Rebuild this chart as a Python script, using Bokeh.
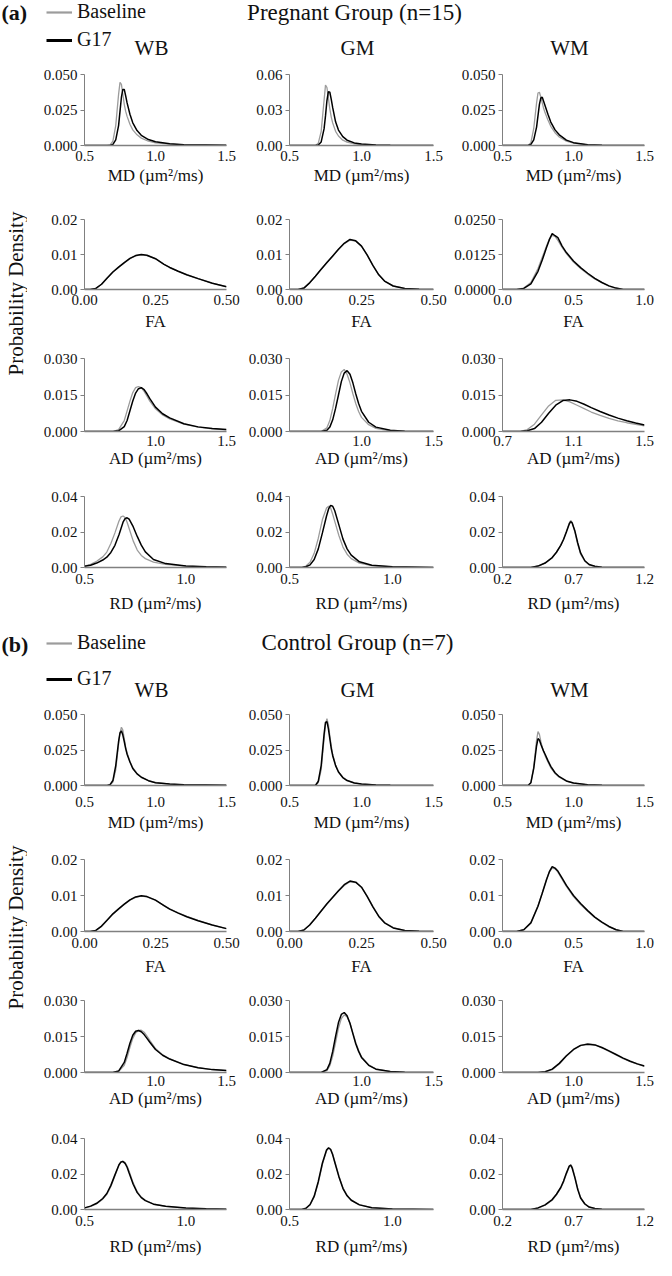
import math
from bokeh.plotting import figure
from bokeh.layouts import column, row
from bokeh.models import Range1d, FixedTicker, NumeralTickFormatter, Label, Legend, LegendItem
from bokeh.embed import file_html
from bokeh.resources import INLINE

# ---------------- data ----------------
series = ["Baseline", "G17"]
groups = ["Pregnant Group (n=15)", "Control Group (n=7)"]
panel_tags = ["(a)", "(b)"]
regions = ["WB", "GM", "WM"]
metrics = ["MD", "FA", "AD", "RD"]
xlabels = {"MD": "MD (µm²/ms)", "FA": "FA", "AD": "AD (µm²/ms)", "RD": "RD (µm²/ms)"}
ylabel = "Probability Density"

# MD
md_x21 = [0.5, 0.66, 0.68, 0.70, 0.72, 0.74, 0.75, 0.76, 0.77, 0.78, 0.79, 0.80, 0.82, 0.84, 0.87, 0.90, 0.95, 1.00, 1.10, 1.20, 1.50]
md_x20 = [0.5, 0.68, 0.70, 0.72, 0.74, 0.75, 0.76, 0.77, 0.78, 0.79, 0.80, 0.82, 0.84, 0.87, 0.90, 0.95, 1.00, 1.10, 1.20, 1.50]
a_wb_md_base = [0, 0, 0.0005, 0.003, 0.014, 0.036, 0.0445, 0.043, 0.036, 0.029, 0.024, 0.0205, 0.015, 0.011, 0.0075, 0.0052, 0.003, 0.0019, 0.0009, 0.0005, 0.0001]
a_wb_md_g17 = [0, 0, 0, 0.0008, 0.004, 0.014, 0.024, 0.034, 0.0395, 0.0395, 0.035, 0.030, 0.022, 0.016, 0.0105, 0.0072, 0.0042, 0.0026, 0.0012, 0.0006, 0.0001]
a_gm_md_base = [0, 0, 0.002, 0.012, 0.038, 0.051, 0.049, 0.040, 0.031, 0.024, 0.019, 0.012, 0.008, 0.0045, 0.0028, 0.0014, 0.0008, 0.0003, 0.0001, 0]
a_gm_md_g17 = [0, 0, 0.0005, 0.003, 0.014, 0.025, 0.038, 0.0455, 0.045, 0.039, 0.032, 0.020, 0.013, 0.0075, 0.0045, 0.0022, 0.0012, 0.0005, 0.0002, 0]
a_wm_md_base = [0, 0, 0.002, 0.012, 0.030, 0.037, 0.0375, 0.034, 0.030, 0.026, 0.023, 0.018, 0.0135, 0.009, 0.006, 0.003, 0.0016, 0.0005, 0.0002, 0]
a_wm_md_g17 = [0, 0, 0.0008, 0.004, 0.013, 0.021, 0.029, 0.0335, 0.034, 0.031, 0.028, 0.022, 0.0165, 0.011, 0.0075, 0.0038, 0.002, 0.0006, 0.0002, 0]
b_wb_md_base = [0, 0, 0.0004, 0.0025, 0.011, 0.029, 0.037, 0.041, 0.039, 0.033, 0.027, 0.023, 0.017, 0.0125, 0.0085, 0.006, 0.0035, 0.0021, 0.001, 0.0005, 0.0001]
b_wb_md_g17 = [0, 0, 0.0006, 0.0035, 0.014, 0.031, 0.037, 0.0385, 0.0355, 0.031, 0.026, 0.022, 0.0165, 0.012, 0.0082, 0.0058, 0.0034, 0.002, 0.001, 0.0005, 0.0001]
b_gm_md_base = [0, 0, 0.002, 0.011, 0.033, 0.043, 0.047, 0.043, 0.035, 0.028, 0.022, 0.0145, 0.0098, 0.0058, 0.0036, 0.0018, 0.001, 0.0004, 0.0002, 0]
b_gm_md_g17 = [0, 0, 0.003, 0.014, 0.036, 0.0445, 0.045, 0.040, 0.033, 0.026, 0.021, 0.014, 0.0095, 0.0056, 0.0035, 0.0018, 0.001, 0.0004, 0.0002, 0]
b_wm_md_base = [0, 0, 0.002, 0.013, 0.032, 0.038, 0.036, 0.031, 0.027, 0.024, 0.021, 0.0165, 0.0125, 0.0085, 0.0058, 0.003, 0.0016, 0.0005, 0.0002, 0]
b_wm_md_g17 = [0, 0, 0.002, 0.012, 0.028, 0.033, 0.032, 0.029, 0.0265, 0.024, 0.022, 0.0175, 0.0135, 0.009, 0.0062, 0.0032, 0.0017, 0.0005, 0.0002, 0]

# FA
fa_wb_x = [0, 0.02, 0.04, 0.06, 0.08, 0.10, 0.12, 0.14, 0.16, 0.18, 0.20, 0.22, 0.25, 0.28, 0.30, 0.33, 0.36, 0.40, 0.45, 0.50]
fa_gm_x = [0, 0.03, 0.05, 0.07, 0.09, 0.11, 0.13, 0.15, 0.17, 0.19, 0.21, 0.23, 0.25, 0.27, 0.29, 0.31, 0.33, 0.36, 0.40, 0.45, 0.50]
fa_wm_x = [0, 0.10, 0.15, 0.20, 0.25, 0.28, 0.31, 0.33, 0.35, 0.37, 0.39, 0.42, 0.45, 0.50, 0.55, 0.60, 0.65, 0.70, 0.75, 0.80, 0.85, 1.0]
a_wb_fa_base = [0, 0, 0.0003, 0.0015, 0.0033, 0.005, 0.0063, 0.0076, 0.0088, 0.0096, 0.0099, 0.0097, 0.0088, 0.0072, 0.0063, 0.0052, 0.0042, 0.0031, 0.0018, 0.0008]
a_wb_fa_g17 = [0, 0, 0.0003, 0.0015, 0.0033, 0.005, 0.0064, 0.0077, 0.0089, 0.0097, 0.0100, 0.0098, 0.0088, 0.0072, 0.0063, 0.0052, 0.0042, 0.0031, 0.0018, 0.0008]
a_gm_fa_base = [0, 0, 0.0004, 0.0019, 0.0038, 0.0058, 0.0077, 0.0095, 0.0114, 0.0131, 0.0141, 0.0138, 0.0124, 0.0098, 0.0068, 0.0042, 0.0024, 0.0010, 0.0003, 0.0001, 0]
a_gm_fa_g17 = [0, 0, 0.0004, 0.0019, 0.0038, 0.0058, 0.0077, 0.0096, 0.0115, 0.0132, 0.0143, 0.0139, 0.0124, 0.0098, 0.0068, 0.0042, 0.0024, 0.0010, 0.0003, 0.0001, 0]
a_wm_fa_base = [0, 0, 0.0005, 0.0025, 0.0075, 0.0115, 0.0155, 0.0180, 0.0193, 0.0190, 0.0175, 0.0150, 0.0128, 0.0098, 0.0075, 0.0055, 0.0038, 0.0024, 0.0012, 0.0004, 0, 0]
a_wm_fa_g17 = [0, 0, 0.0004, 0.002, 0.0065, 0.0105, 0.0150, 0.0178, 0.0200, 0.0192, 0.0185, 0.0155, 0.0132, 0.0102, 0.0078, 0.0058, 0.0040, 0.0025, 0.0013, 0.0005, 0, 0]
b_wb_fa_base = [0, 0, 0.0003, 0.0014, 0.0031, 0.0048, 0.0062, 0.0075, 0.0087, 0.0095, 0.0098, 0.0096, 0.0087, 0.0072, 0.0063, 0.0052, 0.0042, 0.0031, 0.0018, 0.0008]
b_wb_fa_g17 = [0, 0, 0.0003, 0.0015, 0.0032, 0.0049, 0.0063, 0.0076, 0.0088, 0.0096, 0.0099, 0.0097, 0.0087, 0.0072, 0.0062, 0.0051, 0.0041, 0.0030, 0.0018, 0.0008]
b_gm_fa_base = [0, 0, 0.0004, 0.0018, 0.0037, 0.0057, 0.0076, 0.0094, 0.0112, 0.0128, 0.0138, 0.0136, 0.0123, 0.0098, 0.0069, 0.0043, 0.0025, 0.0011, 0.0003, 0.0001, 0]
b_gm_fa_g17 = [0, 0, 0.0004, 0.0018, 0.0037, 0.0057, 0.0077, 0.0095, 0.0113, 0.0130, 0.0140, 0.0137, 0.0123, 0.0097, 0.0068, 0.0042, 0.0024, 0.0010, 0.0003, 0.0001, 0]
b_wm_fa_base = [0, 0, 0.0005, 0.0025, 0.0072, 0.0108, 0.0145, 0.0165, 0.0176, 0.0174, 0.0165, 0.0145, 0.0125, 0.0097, 0.0075, 0.0056, 0.0039, 0.0025, 0.0013, 0.0005, 0, 0]
b_wm_fa_g17 = [0, 0, 0.0005, 0.0024, 0.0070, 0.0106, 0.0144, 0.0166, 0.0180, 0.0176, 0.0168, 0.0148, 0.0128, 0.0100, 0.0078, 0.0058, 0.0040, 0.0026, 0.0014, 0.0005, 0, 0]

# AD
ad_wb_x = [0.5, 0.70, 0.74, 0.78, 0.80, 0.82, 0.84, 0.86, 0.88, 0.90, 0.92, 0.94, 0.96, 1.0, 1.05, 1.1, 1.2, 1.3, 1.4, 1.5]
ad_gm_x = [0.5, 0.72, 0.76, 0.78, 0.80, 0.82, 0.84, 0.86, 0.88, 0.90, 0.92, 0.94, 0.96, 0.98, 1.0, 1.05, 1.1, 1.2, 1.3, 1.5]
ad_wm_x_a = [0.7, 0.80, 0.84, 0.88, 0.92, 0.96, 1.00, 1.04, 1.08, 1.12, 1.16, 1.20, 1.25, 1.30, 1.35, 1.40, 1.45, 1.50]
ad_wm_x_b = [0.5, 0.75, 0.80, 0.85, 0.90, 0.95, 1.00, 1.05, 1.10, 1.15, 1.20, 1.25, 1.30, 1.35, 1.40, 1.45, 1.50]
a_wb_ad_base = [0, 0, 0.0008, 0.0045, 0.0085, 0.0125, 0.016, 0.018, 0.0185, 0.018, 0.0165, 0.0145, 0.0125, 0.0093, 0.0068, 0.0052, 0.0030, 0.0018, 0.0011, 0.0007]
a_wb_ad_g17 = [0, 0, 0.0003, 0.002, 0.0045, 0.0085, 0.0125, 0.0158, 0.0176, 0.018, 0.0172, 0.0155, 0.0135, 0.0100, 0.0073, 0.0056, 0.0032, 0.0019, 0.0012, 0.0008]
a_gm_ad_base = [0, 0, 0.0015, 0.0045, 0.0095, 0.0155, 0.021, 0.0245, 0.0255, 0.0235, 0.020, 0.0155, 0.0115, 0.0082, 0.0058, 0.0028, 0.0013, 0.0003, 0.0001, 0]
a_gm_ad_g17 = [0, 0, 0.0005, 0.0018, 0.0048, 0.0095, 0.0150, 0.0205, 0.0240, 0.0250, 0.0235, 0.0200, 0.0155, 0.0115, 0.0083, 0.0038, 0.0018, 0.0005, 0.0001, 0]
a_wm_ad_base = [0, 0, 0.0008, 0.0030, 0.0068, 0.0105, 0.0128, 0.0130, 0.0122, 0.0108, 0.0094, 0.0080, 0.0066, 0.0054, 0.0044, 0.0036, 0.0029, 0.0023]
a_wm_ad_g17 = [0, 0, 0.0003, 0.0012, 0.0038, 0.0075, 0.0108, 0.0127, 0.0130, 0.0124, 0.0112, 0.0098, 0.0082, 0.0068, 0.0055, 0.0044, 0.0035, 0.0027]
b_wb_ad_base = [0, 0, 0.0004, 0.003, 0.0062, 0.0105, 0.0142, 0.0165, 0.0175, 0.0176, 0.0168, 0.0152, 0.0134, 0.0100, 0.0074, 0.0057, 0.0034, 0.0020, 0.0012, 0.0008]
b_wb_ad_g17 = [0, 0, 0.0006, 0.0042, 0.0080, 0.0122, 0.0155, 0.0172, 0.0175, 0.0170, 0.0158, 0.0142, 0.0126, 0.0096, 0.0072, 0.0056, 0.0033, 0.0020, 0.0012, 0.0008]
b_gm_ad_base = [0, 0, 0.0008, 0.0028, 0.0068, 0.0125, 0.0185, 0.0225, 0.0240, 0.0232, 0.0205, 0.0165, 0.0125, 0.0092, 0.0066, 0.0032, 0.0015, 0.0004, 0.0001, 0]
b_gm_ad_g17 = [0, 0, 0.0012, 0.0038, 0.0088, 0.0150, 0.0208, 0.0242, 0.0250, 0.0236, 0.0205, 0.0162, 0.0120, 0.0088, 0.0063, 0.0030, 0.0014, 0.0004, 0.0001, 0]
b_wm_ad_base = [0, 0, 0.0003, 0.0012, 0.0035, 0.0068, 0.0095, 0.0112, 0.0120, 0.0116, 0.0103, 0.0088, 0.0073, 0.0058, 0.0045, 0.0035, 0.0026]
b_wm_ad_g17 = [0, 0, 0.0003, 0.0014, 0.0038, 0.0070, 0.0096, 0.0113, 0.0118, 0.0115, 0.0104, 0.0090, 0.0075, 0.0060, 0.0047, 0.0036, 0.0027]

# RD
rd_wb_x = [0.50, 0.53, 0.56, 0.59, 0.61, 0.63, 0.65, 0.67, 0.68, 0.69, 0.70, 0.71, 0.72, 0.74, 0.76, 0.78, 0.80, 0.84, 0.90, 1.0, 1.1, 1.2]
rd_gm_x = [0.5, 0.56, 0.58, 0.60, 0.62, 0.64, 0.66, 0.68, 0.69, 0.70, 0.71, 0.72, 0.74, 0.76, 0.78, 0.80, 0.84, 0.90, 1.0, 1.2]
rd_wm_x = [0.2, 0.40, 0.45, 0.50, 0.55, 0.58, 0.61, 0.63, 0.65, 0.67, 0.68, 0.69, 0.71, 0.73, 0.75, 0.78, 0.81, 0.85, 0.90, 1.0, 1.2]
a_wb_rd_base = [0.0008, 0.0018, 0.0035, 0.006, 0.0087, 0.0135, 0.0195, 0.0262, 0.0285, 0.0290, 0.0282, 0.0255, 0.0220, 0.0150, 0.0098, 0.0068, 0.0050, 0.003, 0.0018, 0.0008, 0.0004, 0.0002]
a_wb_rd_g17 = [0.0007, 0.0013, 0.0025, 0.0042, 0.0058, 0.0085, 0.0125, 0.0185, 0.0220, 0.0255, 0.0275, 0.0280, 0.0272, 0.0230, 0.0175, 0.0126, 0.0088, 0.0045, 0.0022, 0.0009, 0.0004, 0.0002]
a_gm_rd_base = [0, 0, 0.0008, 0.0030, 0.0080, 0.0165, 0.0270, 0.0335, 0.0345, 0.0335, 0.030, 0.0260, 0.0180, 0.0115, 0.0075, 0.0050, 0.0025, 0.0010, 0.0003, 0]
a_gm_rd_g17 = [0, 0, 0.0004, 0.0015, 0.0045, 0.0105, 0.0195, 0.0290, 0.0330, 0.0350, 0.0345, 0.0320, 0.0240, 0.0160, 0.0105, 0.0070, 0.0032, 0.0013, 0.0004, 0]
a_wm_rd_base = [0, 0, 0.0008, 0.0025, 0.0055, 0.0085, 0.0125, 0.0160, 0.0205, 0.0250, 0.0265, 0.0255, 0.0200, 0.0130, 0.0075, 0.0035, 0.0015, 0.0006, 0.0002, 0, 0]
a_wm_rd_g17 = [0, 0, 0.0008, 0.0025, 0.0056, 0.0086, 0.0125, 0.0158, 0.0200, 0.0245, 0.0258, 0.0252, 0.0205, 0.0138, 0.0082, 0.0038, 0.0017, 0.0007, 0.0002, 0, 0]
b_wb_rd_base = [0.0008, 0.0017, 0.0032, 0.0058, 0.0085, 0.013, 0.019, 0.025, 0.0268, 0.0272, 0.0265, 0.0245, 0.0215, 0.015, 0.0100, 0.0070, 0.0052, 0.0031, 0.0018, 0.0008, 0.0004, 0.0002]
b_wb_rd_g17 = [0.0009, 0.0019, 0.0035, 0.0062, 0.0090, 0.0136, 0.0195, 0.0252, 0.0268, 0.0270, 0.0260, 0.0238, 0.0205, 0.0142, 0.0095, 0.0067, 0.0050, 0.0030, 0.0018, 0.0008, 0.0004, 0.0002]
b_gm_rd_base = [0, 0, 0.0006, 0.0025, 0.0070, 0.0150, 0.0255, 0.0330, 0.0345, 0.0340, 0.0312, 0.0272, 0.0190, 0.0122, 0.0080, 0.0054, 0.0027, 0.0011, 0.0003, 0]
b_gm_rd_g17 = [0, 0, 0.0007, 0.0028, 0.0075, 0.0158, 0.0262, 0.0335, 0.0348, 0.0338, 0.0308, 0.0266, 0.0185, 0.0118, 0.0077, 0.0052, 0.0026, 0.0010, 0.0003, 0]
b_wm_rd_base = [0, 0, 0.0008, 0.0024, 0.0052, 0.0082, 0.0120, 0.0155, 0.0200, 0.0240, 0.0252, 0.0242, 0.0185, 0.0118, 0.0068, 0.0032, 0.0014, 0.0006, 0.0002, 0, 0]
b_wm_rd_g17 = [0, 0, 0.0009, 0.0026, 0.0056, 0.0086, 0.0124, 0.0160, 0.0205, 0.0245, 0.0250, 0.0235, 0.0178, 0.0112, 0.0065, 0.0031, 0.0014, 0.0006, 0.0002, 0, 0]

curves = {
    ("a", "WB", "MD"): (md_x21, a_wb_md_base, a_wb_md_g17),
    ("a", "GM", "MD"): (md_x20, a_gm_md_base, a_gm_md_g17),
    ("a", "WM", "MD"): (md_x20, a_wm_md_base, a_wm_md_g17),
    ("b", "WB", "MD"): (md_x21, b_wb_md_base, b_wb_md_g17),
    ("b", "GM", "MD"): (md_x20, b_gm_md_base, b_gm_md_g17),
    ("b", "WM", "MD"): (md_x20, b_wm_md_base, b_wm_md_g17),
    ("a", "WB", "FA"): (fa_wb_x, a_wb_fa_base, a_wb_fa_g17),
    ("a", "GM", "FA"): (fa_gm_x, a_gm_fa_base, a_gm_fa_g17),
    ("a", "WM", "FA"): (fa_wm_x, a_wm_fa_base, a_wm_fa_g17),
    ("b", "WB", "FA"): (fa_wb_x, b_wb_fa_base, b_wb_fa_g17),
    ("b", "GM", "FA"): (fa_gm_x, b_gm_fa_base, b_gm_fa_g17),
    ("b", "WM", "FA"): (fa_wm_x, b_wm_fa_base, b_wm_fa_g17),
    ("a", "WB", "AD"): (ad_wb_x, a_wb_ad_base, a_wb_ad_g17),
    ("a", "GM", "AD"): (ad_gm_x, a_gm_ad_base, a_gm_ad_g17),
    ("a", "WM", "AD"): (ad_wm_x_a, a_wm_ad_base, a_wm_ad_g17),
    ("b", "WB", "AD"): (ad_wb_x, b_wb_ad_base, b_wb_ad_g17),
    ("b", "GM", "AD"): (ad_gm_x, b_gm_ad_base, b_gm_ad_g17),
    ("b", "WM", "AD"): (ad_wm_x_b, b_wm_ad_base, b_wm_ad_g17),
    ("a", "WB", "RD"): (rd_wb_x, a_wb_rd_base, a_wb_rd_g17),
    ("a", "GM", "RD"): (rd_gm_x, a_gm_rd_base, a_gm_rd_g17),
    ("a", "WM", "RD"): (rd_wm_x, a_wm_rd_base, a_wm_rd_g17),
    ("b", "WB", "RD"): (rd_wb_x, b_wb_rd_base, b_wb_rd_g17),
    ("b", "GM", "RD"): (rd_gm_x, b_gm_rd_base, b_gm_rd_g17),
    ("b", "WM", "RD"): (rd_wm_x, b_wm_rd_base, b_wm_rd_g17),
}


def axes_spec(panel, region, metric):
    if metric == "MD":
        xs = ((0.5, 1.5), [0.5, 1.0, 1.5], "0.0")
        if panel == "a" and region == "GM":
            ys = ((0, 0.06), [0, 0.03, 0.06], "0.00")
        else:
            ys = ((0, 0.05), [0, 0.025, 0.05], "0.000")
    elif metric == "FA":
        if region == "WM":
            xs = ((0, 1.0), [0, 0.5, 1.0], "0.0")
            ys = ((0, 0.025), [0, 0.0125, 0.025], "0.0000") if panel == "a" else ((0, 0.02), [0, 0.01, 0.02], "0.00")
        else:
            xs = ((0, 0.5), [0, 0.25, 0.5], "0.00")
            ys = ((0, 0.02), [0, 0.01, 0.02], "0.00")
    elif metric == "AD":
        ys = ((0, 0.03), [0, 0.015, 0.03], "0.000")
        if panel == "a" and region == "WM":
            xs = ((0.7, 1.5), [0.7, 1.1, 1.5], "0.0")
        else:
            xs = ((0.5, 1.5), [1.0, 1.5], "0.0")
    else:
        ys = ((0, 0.04), [0, 0.02, 0.04], "0.00")
        if region == "WM":
            xs = ((0.2, 1.2), [0.2, 0.7, 1.2], "0.0")
        else:
            xs = ((0.5, 1.2), [0.5, 1.0], "0.0")
    return xs, ys

# ---------------- layout (reference pixel coords, scaled to fit) ----------------
FONT = "Liberation Serif"
TXT = "#111111"
GRAY = "#9c9c9c"
AXIS = "#808080"
SX = 656 / 672
SY = 1260 / 1276


def sx(v):
    return int(round(v * SX))


def sy(v):
    return int(round(v * SY))

col_bounds = [0, 28, 248, 462, 672]
frames_x = [(86, 231), (296, 444), (514, 660)]

panel_geo = {
    "a": dict(header=(0, 63), rows=[(63, 210), (210, 351), (351, 490), (490, 630)],
              fbot=[147, 293, 436, 574], tick_sd=[5, 5, 4, 6], lab_sd=[2, 4, 0, 7],
              tag_y=12, leg_y=(13, 41), title_y=12, title_x=363, reg_y=48, pd_y=297),
    "b": dict(header=(630, 711), rows=[(711, 858), (858, 1001), (1001, 1140), (1140, 1276)],
              fbot=[795, 943, 1086, 1224], tick_sd=[11, 6, 3, 6], lab_sd=[3, 6, 0, 8],
              tag_y=22, leg_y=(22, 58), title_y=20, title_x=366, reg_y=68, pd_y=939),
}
region_x = [155, 366, 583]


def style_blank(p):
    p.outline_line_color = None
    p.background_fill_color = "white"
    p.border_fill_color = "white"


def make_sub(key, w, h, bl, br, bt, bb, tick_sd, lab_sd):
    panel, region, metric = key
    xs, base, g17 = curves[key]
    (xr, xt, xf), (yr, yt, yf) = axes_spec(panel, region, metric)
    p = figure(width=w, height=h, x_range=Range1d(*xr), y_range=Range1d(*yr),
               output_backend="svg", toolbar_location=None,
               min_border_left=bl, min_border_right=br, min_border_top=bt, min_border_bottom=bb)
    style_blank(p)
    p.grid.visible = False
    p.line(xs, base, line_color=GRAY, line_width=1.3)
    p.line(xs, g17, line_color="black", line_width=1.5)
    p.xaxis.ticker = FixedTicker(ticks=xt)
    p.xaxis.formatter = NumeralTickFormatter(format=xf)
    p.yaxis.ticker = FixedTicker(ticks=yt)
    p.yaxis.formatter = NumeralTickFormatter(format=yf)
    for ax in (p.xaxis[0], p.yaxis[0]):
        ax.axis_line_color = AXIS
        ax.major_tick_line_color = AXIS
        ax.minor_tick_line_color = None
        ax.major_tick_in = 0
        ax.major_label_text_font = FONT
        ax.major_label_text_font_size = "15px"
        ax.major_label_text_color = TXT
    p.xaxis.axis_line_width = 1.6
    p.xaxis.major_tick_out = 0
    p.xaxis.major_label_standoff = tick_sd
    p.yaxis.major_tick_out = 4
    p.yaxis.major_label_standoff = 3
    p.xaxis.axis_label = xlabels[metric]
    p.xaxis.axis_label_text_font = FONT
    p.xaxis.axis_label_text_font_size = "17px"
    p.xaxis.axis_label_text_font_style = "normal"
    p.xaxis.axis_label_text_color = TXT
    p.xaxis.axis_label_standoff = lab_sd
    return p


def make_header(panel, idx):
    g = panel_geo[panel]
    top, bot = g["header"]
    H = sy(bot) - sy(top)
    p = figure(width=656, height=H, x_range=Range1d(0, 1), y_range=Range1d(0, 1),
               x_axis_type=None, y_axis_type=None, output_backend="svg",
               toolbar_location=None, min_border=0)
    style_blank(p)
    p.grid.visible = False

    def ys(y):
        return H - (sy(top + y) - sy(top))

    p.add_layout(Label(x=sx(1), y=ys(g["tag_y"]), x_units="screen", y_units="screen",
                       text=panel_tags[idx], text_font=FONT, text_font_size="22px",
                       text_font_style="bold", text_color=TXT,
                       text_align="left", text_baseline="middle"))
    p.add_layout(Label(x=sx(g["title_x"]), y=ys(g["title_y"]), x_units="screen", y_units="screen",
                       text=groups[idx], text_font=FONT, text_font_size="23px", text_color=TXT,
                       text_align="center", text_baseline="middle"))
    for rx, name in zip(region_x, regions):
        p.add_layout(Label(x=sx(rx), y=ys(g["reg_y"]), x_units="screen", y_units="screen",
                           text=name, text_font=FONT, text_font_size="21px", text_color=TXT,
                           text_align="center", text_baseline="middle"))
    r1 = p.line(x=[math.nan], y=[math.nan], line_color=GRAY, line_width=2.2)
    r2 = p.line(x=[math.nan], y=[math.nan], line_color="black", line_width=3)
    y1, y2 = g["leg_y"]
    item_h = 22
    spacing = (sy(top + y2) - sy(top + y1)) - item_h
    leg_top = sy(top + y1) - sy(top) - item_h / 2
    leg_h = 2 * item_h + spacing
    legend = Legend(items=[LegendItem(label=series[0], renderers=[r1]),
                           LegendItem(label=series[1], renderers=[r2])],
                    location=(sx(47), H - leg_top - leg_h), orientation="vertical",
                    glyph_width=26, glyph_height=item_h, label_height=item_h,
                    label_standoff=5, spacing=spacing, padding=0, margin=0,
                    border_line_color=None, background_fill_alpha=0,
                    label_text_font=FONT, label_text_font_size="20px",
                    label_text_color=TXT)
    p.add_layout(legend)
    return p


def make_panel(panel, idx):
    g = panel_geo[panel]
    rows_top = g["rows"][0][0]
    rows_bot = g["rows"][-1][1]
    strip_w = sx(col_bounds[1]) - sx(col_bounds[0])
    strip_h = sy(rows_bot) - sy(rows_top)
    strip = figure(width=strip_w, height=strip_h, x_range=Range1d(0, 1), y_range=Range1d(0, 1),
                   x_axis_type=None, y_axis_type=None, output_backend="svg",
                   toolbar_location=None, min_border=0)
    style_blank(strip)
    strip.grid.visible = False
    strip.add_layout(Label(x=sx(15), y=strip_h - (sy(g["pd_y"]) - sy(rows_top)),
                           x_units="screen", y_units="screen", text=ylabel, text_color=TXT,
                           text_font=FONT, text_font_size="21px", angle=math.pi / 2,
                           text_align="center", text_baseline="middle"))
    row_figs = []
    for ri, metric in enumerate(metrics):
        rt, rb = g["rows"][ri]
        h = sy(rb) - sy(rt)
        bt = sy(rt + 12) - sy(rt)
        bb = sy(rb) - sy(g["fbot"][ri])
        figs = []
        for ci, region in enumerate(regions):
            c0, c1 = col_bounds[ci + 1], col_bounds[ci + 2]
            f0, f1 = frames_x[ci]
            w = sx(c1) - sx(c0)
            bl = sx(f0) - sx(c0)
            br = sx(c1) - sx(f1)
            figs.append(make_sub((panel, region, metric), w, h, bl, br, bt, bb,
                                 g["tick_sd"][ri], g["lab_sd"][ri]))
        row_figs.append(row(*figs, spacing=0))
    return row(strip, column(*row_figs, spacing=0), spacing=0)


layout = column(make_header("a", 0), make_panel("a", 0),
                make_header("b", 1), make_panel("b", 1), spacing=0)

open("out.html", "w").write(file_html(layout, INLINE))
